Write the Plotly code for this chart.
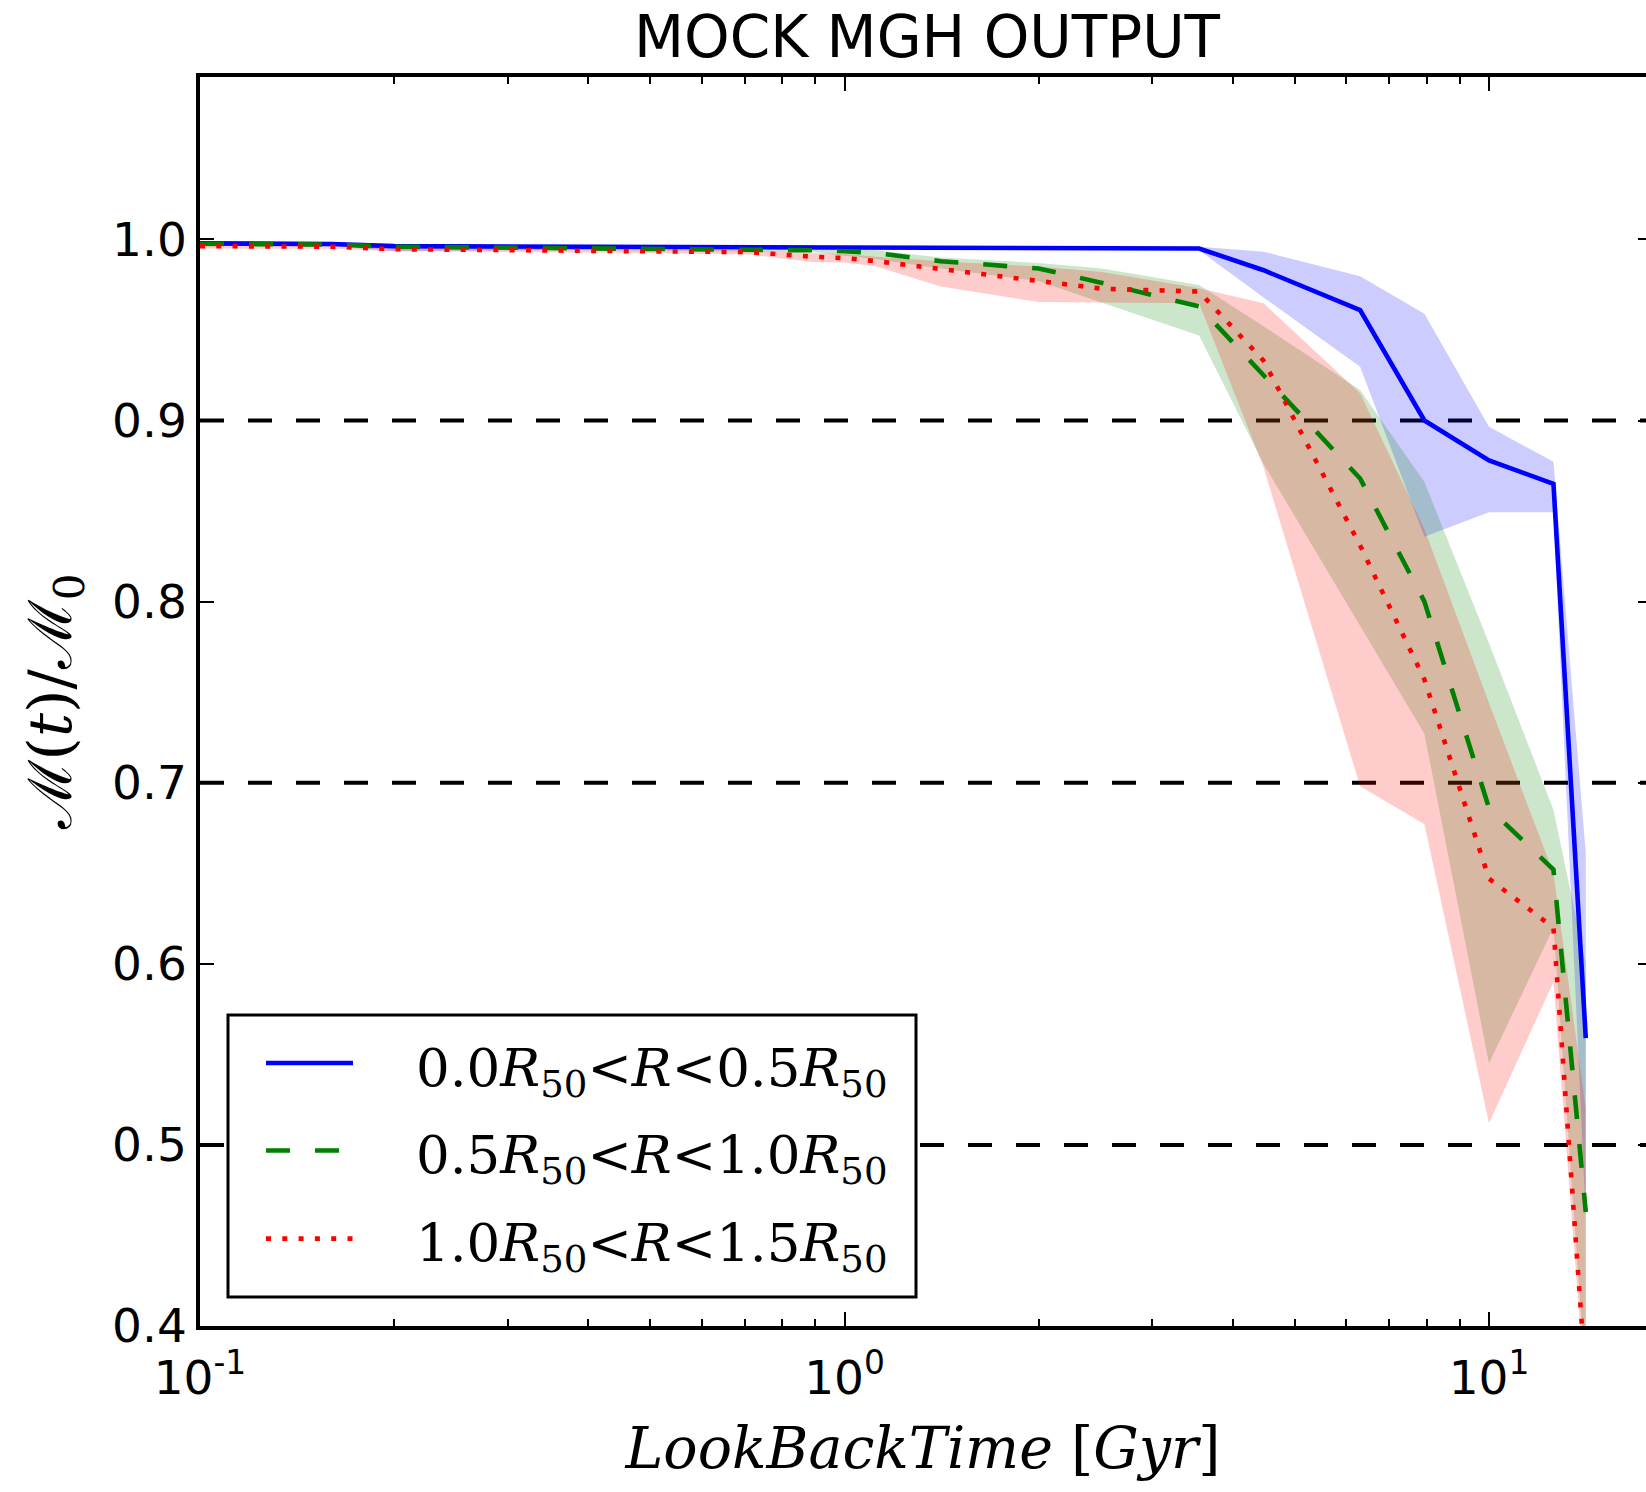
import plotly.graph_objects as go

# ---------------- data ----------------
t = [0.1, 0.16, 0.2, 0.5, 0.71, 0.89, 1.0, 1.12, 1.41, 2.0, 2.51, 3.55, 4.47, 6.31, 7.94, 10.0, 12.59, 14.13]

blue_mid = [0.9978, 0.9975, 0.9963, 0.9958, 0.9955, 0.9953, 0.9952, 0.9952, 0.9951, 0.9950, 0.9950, 0.9950, 0.983, 0.961, 0.900, 0.878, 0.865, 0.559]
blue_hi = [0.9988, 0.9985, 0.9972, 0.9965, 0.9962, 0.9960, 0.9960, 0.9960, 0.9960, 0.9960, 0.9960, 0.9959, 0.9932, 0.9797, 0.959, 0.8965, 0.8772, 0.661]
blue_lo = [0.9968, 0.9965, 0.9935, 0.9948, 0.9945, 0.9944, 0.9943, 0.9943, 0.9942, 0.9942, 0.9942, 0.9940, 0.968, 0.9297, 0.8358, 0.8493, 0.8493, 0.460]

green_mid = [0.9976, 0.9972, 0.9960, 0.9950, 0.9946, 0.9940, 0.9935, 0.9925, 0.988, 0.984, 0.976, 0.963, 0.925, 0.868, 0.800, 0.686, 0.652, 0.463]
green_hi = [0.9986, 0.9982, 0.9970, 0.9960, 0.9956, 0.9950, 0.9945, 0.9940, 0.990, 0.987, 0.984, 0.9748, 0.952, 0.9168, 0.866, 0.777, 0.685, 0.60]
green_lo = [0.9966, 0.9962, 0.9950, 0.9940, 0.9936, 0.9930, 0.9910, 0.9890, 0.984, 0.977, 0.965, 0.947, 0.876, 0.787, 0.727, 0.545, 0.62, 0.37]

red_mid = [0.9963, 0.9960, 0.9946, 0.9935, 0.9930, 0.9905, 0.9897, 0.9880, 0.9836, 0.977, 0.9728, 0.9712, 0.933, 0.831, 0.757, 0.647, 0.620, 0.37]
red_hi = [0.9973, 0.9970, 0.9956, 0.9945, 0.9940, 0.9925, 0.9920, 0.9905, 0.988, 0.985, 0.982, 0.973, 0.9647, 0.915, 0.84, 0.744, 0.65, 0.52]
red_lo = [0.9950, 0.9948, 0.9935, 0.9925, 0.9917, 0.9876, 0.9873, 0.9850, 0.974, 0.9655, 0.9652, 0.9647, 0.874, 0.698, 0.677, 0.512, 0.59, 0.36]

series_labels = [
    "0.0<i>R</i><sub>50</sub>&lt;<i>R</i>&lt;0.5<i>R</i><sub>50</sub>",
    "0.5<i>R</i><sub>50</sub>&lt;<i>R</i>&lt;1.0<i>R</i><sub>50</sub>",
    "1.0<i>R</i><sub>50</sub>&lt;<i>R</i>&lt;1.5<i>R</i><sub>50</sub>",
]
ref_levels = [0.9, 0.7, 0.5]
x_major = [0.1, 1, 10]
x_major_text = ["10<sup>-1</sup>", "10<sup>0</sup>", "10<sup>1</sup>"]
x_minor = [0.2, 0.3, 0.4, 0.5, 0.6, 0.7, 0.8, 0.9, 2, 3, 4, 5, 6, 7, 8, 9]
y_ticks = [0.4, 0.5, 0.6, 0.7, 0.8, 0.9, 1.0]
y_range = [0.4, 1.0897]
x_range_log = [-1, 1.2436]

# ---------------- style ----------------
colors = ["#0000ff", "#008000", "#ff0000"]
fills = ["rgba(0,0,255,0.2)", "rgba(0,128,0,0.2)", "rgba(255,0,0,0.2)"]
dashes = ["solid", "24px,25px", "5px,11.3px"]
LW = 4.6

W, H = 1646, 1492
ML, MR, MT, MB = 200, 0, 77, 166
PW, PH = W - ML - MR, H - MT - MB


def px_x(p):
    return (p - ML) / PW


def px_y(p):
    return (H - MB - p) / PH


fig = go.Figure()

bands = [(blue_lo, blue_hi), (green_lo, green_hi), (red_lo, red_hi)]
for (lo, hi), fc in zip(bands, fills):
    fig.add_trace(go.Scatter(x=t, y=lo, mode="lines", line=dict(width=0, color=fc),
                             showlegend=False, hoverinfo="skip"))
    fig.add_trace(go.Scatter(x=t, y=hi, mode="lines", line=dict(width=0, color=fc),
                             fill="tonexty", fillcolor=fc, showlegend=False, hoverinfo="skip"))

mids = [blue_mid, green_mid, red_mid]
for mid, c, d, lab in zip(mids, colors, dashes, series_labels):
    fig.add_trace(go.Scatter(x=t, y=mid, mode="lines", name=lab,
                             line=dict(color=c, width=LW, dash=d), showlegend=False))

# invisible trace to anchor the right-hand tick axis
fig.add_trace(go.Scatter(x=[t[0]], y=[y_range[0]], yaxis="y2", mode="markers",
                         marker=dict(opacity=0), showlegend=False, hoverinfo="skip"))

# horizontal reference lines
for lv in ref_levels:
    fig.add_shape(type="line", xref="paper", x0=0, x1=1, yref="y", y0=lv, y1=lv,
                  line=dict(color="black", width=4, dash="24px,24px"), layer="below")

# manual legend
box_l, box_r, box_t, box_b = 228, 916, 1015, 1297
fig.add_shape(type="rect", xref="paper", yref="paper",
              x0=px_x(box_l), x1=px_x(box_r), y0=px_y(box_b), y1=px_y(box_t),
              line=dict(color="black", width=3), fillcolor="white", layer="above")
rows = [1063, 1150.5, 1238.6]
for ry, c, d, lab in zip(rows, colors, dashes, series_labels):
    fig.add_shape(type="line", xref="paper", yref="paper",
                  x0=px_x(266), x1=px_x(353), y0=px_y(ry), y1=px_y(ry),
                  line=dict(color=c, width=LW, dash=d), layer="above")
    fig.add_annotation(x=px_x(414), y=px_y(ry + 8), xref="paper", yref="paper",
                       text=lab, showarrow=False, xanchor="left", yanchor="middle",
                       font=dict(family="DejaVu Serif", size=53, color="black"))

tickfont = dict(family="DejaVu Sans", size=47, color="black")

fig.update_layout(
    width=W, height=H,
    margin=dict(l=ML, r=MR, t=MT, b=MB),
    paper_bgcolor="white", plot_bgcolor="white",
    showlegend=False,
    title=dict(text="MOCK MGH OUTPUT", x=927 / W, xanchor="center", xref="container",
               y=1 - 37 / H, yanchor="middle", yref="container",
               font=dict(family="DejaVu Sans", size=58, color="black")),
    xaxis=dict(
        type="log", range=x_range_log,
        showline=True, linecolor="black", linewidth=3.5, mirror="ticks",
        ticks="inside", ticklen=14, tickwidth=2, tickcolor="black",
        tickmode="array", tickvals=x_major, ticktext=x_major_text,
        tickfont=tickfont, ticklabelstandoff=8,
        minor=dict(ticks="inside", ticklen=7, tickwidth=2, tickcolor="black",
                   tickmode="array", tickvals=x_minor, showgrid=False),
        showgrid=False, zeroline=False,
        title=dict(text="<i>LookBackTime</i> [<i>Gyr</i>]",
                   font=dict(family="DejaVu Serif", size=57, color="black"), standoff=25),
    ),
    yaxis=dict(
        range=y_range,
        showline=True, linecolor="black", linewidth=3.5, mirror=False,
        ticks="inside", ticklen=14, tickwidth=2, tickcolor="black",
        tickmode="array", tickvals=y_ticks, ticktext=[f"{v:.1f}" for v in y_ticks],
        tickfont=tickfont, showgrid=False, zeroline=False,
        title=dict(text="ℳ(<i>t</i>)/ℳ<sub>0</sub>",
                   font=dict(family="DejaVu Serif", size=60, color="black"), standoff=22),
    ),
    yaxis2=dict(
        overlaying="y", side="right", anchor="x", range=y_range,
        showline=False, ticks="inside", ticklen=8, tickwidth=2, tickcolor="black",
        tickmode="array", tickvals=y_ticks, showticklabels=False,
        showgrid=False, zeroline=False,
    ),
)

fig.write_html("out.html")
